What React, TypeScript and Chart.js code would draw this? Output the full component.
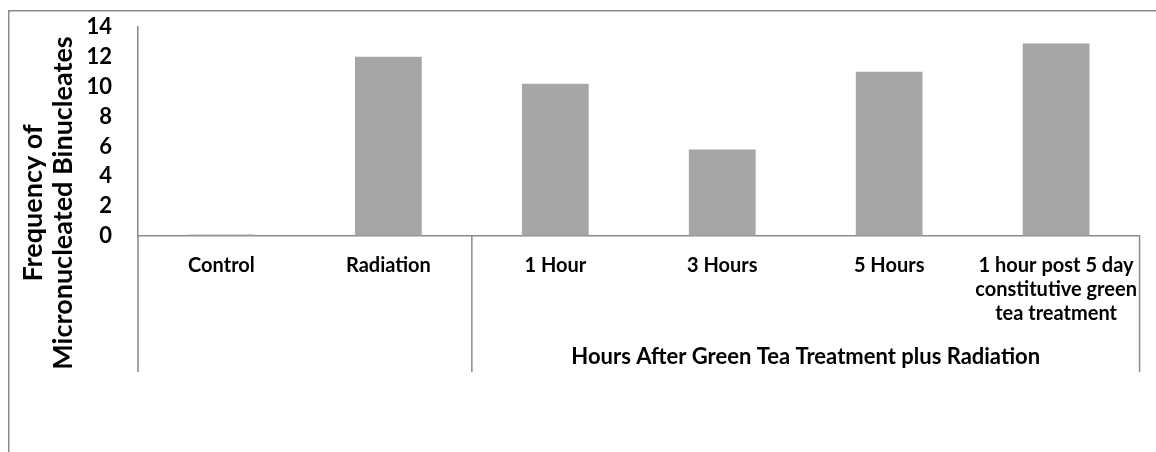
import React, { useEffect, useRef } from "react";
import { Chart, registerables } from "chart.js";

Chart.register(...registerables);

const categories: (string | string[])[] = [
  "Control",
  "Radiation",
  "1 Hour",
  "3 Hours",
  "5 Hours",
  ["1 hour post 5 day", "constitutive green", "tea treatment"],
];
const frequencyValues = [0.1, 12.0, 10.2, 5.8, 11.0, 12.9];
const groupLabel = "Hours After Green Tea Treatment plus Radiation";
const yTitleLines = ["Frequency of", "Micronucleated Binucleates"];
const yTickMax = 14;
const yTickStep = 2;

const FONT = "Lato, 'Open Sans', sans-serif";
const LINE = "#8a8a8a";

const decorPlugin = {
  id: "decor",
  beforeDraw(chart: any) {
    const ctx = chart.ctx;
    ctx.save();
    ctx.strokeStyle = LINE;
    ctx.lineWidth = 1.5;
    ctx.beginPath();
    ctx.moveTo(8.75, 452);
    ctx.lineTo(8.75, 10.75);
    ctx.lineTo(1156, 10.75);
    ctx.stroke();
    ctx.restore();
  },
  afterDraw(chart: any) {
    const ctx = chart.ctx;
    const xs = chart.scales.x;
    const area = chart.chartArea;
    const mid = (xs.getPixelForValue(1) + xs.getPixelForValue(2)) / 2;
    const bottom = 372;
    ctx.save();
    ctx.strokeStyle = LINE;
    ctx.lineWidth = 1.5;
    [area.left, mid, area.right].forEach((x: number) => {
      ctx.beginPath();
      ctx.moveTo(x, area.bottom);
      ctx.lineTo(x, bottom);
      ctx.stroke();
    });
    ctx.fillStyle = "#000";
    ctx.font = `bold 22px ${FONT}`;
    ctx.textAlign = "center";
    ctx.textBaseline = "middle";
    ctx.fillText(groupLabel, (mid + area.right) / 2, 357);

    // y axis title
    ctx.font = `bold 27px ${FONT}`;
    ctx.translate(0, 203);
    ctx.rotate(-Math.PI / 2);
    ctx.fillText(yTitleLines[0], 0, 33);
    ctx.fillText(yTitleLines[1], 0, 63);
    ctx.restore();
  },
};

export default function App() {
  const ref = useRef<HTMLCanvasElement>(null);
  useEffect(() => {
    if (!ref.current) return;
    const chart = new Chart(ref.current, {
      type: "bar",
      data: {
        labels: categories,
        datasets: [
          {
            data: frequencyValues,
            backgroundColor: "#a6a6a6",
            borderWidth: 0,
            barPercentage: 0.4,
            categoryPercentage: 1,
          },
        ],
      },
      options: {
        responsive: false,
        animation: false,
        layout: { padding: { top: 27, right: 13, left: 0, bottom: 0 } },
        plugins: {
          legend: { display: false },
          tooltip: { enabled: false },
          title: { display: false },
        },
        scales: {
          x: {
            grid: { display: false, drawTicks: false },
            border: { display: true, color: LINE, width: 1.5 },
            ticks: {
              color: "#000",
              font: { family: FONT, size: 20, weight: "bold", lineHeight: 1.2 },
              padding: 18,
              maxRotation: 0,
              autoSkip: false,
            },
            afterFit(scale: any) {
              scale.height = 216;
            },
          },
          y: {
            min: 0,
            max: yTickMax,
            grid: {
              display: true,
              color: "rgba(0,0,0,0)",
              drawOnChartArea: false,
              drawTicks: true,
              tickLength: 24,
            },
            border: { display: true, color: LINE, width: 1.5 },
            ticks: {
              stepSize: yTickStep,
              autoSkip: false,
              color: "#000",
              font: { family: FONT, size: 22, weight: "bold" },
              padding: 2,
            },
            afterFit(scale: any) {
              scale.width = 138;
            },
          },
        },
      },
      plugins: [decorPlugin],
    });
    return () => chart.destroy();
  }, []);
  return (
    <div style={{ position: "fixed", left: 0, top: 0, width: 1156, height: 452, background: "#fff" }}>
      <canvas ref={ref} width={1156} height={452} style={{ display: "block" }} />
    </div>
  );
}
